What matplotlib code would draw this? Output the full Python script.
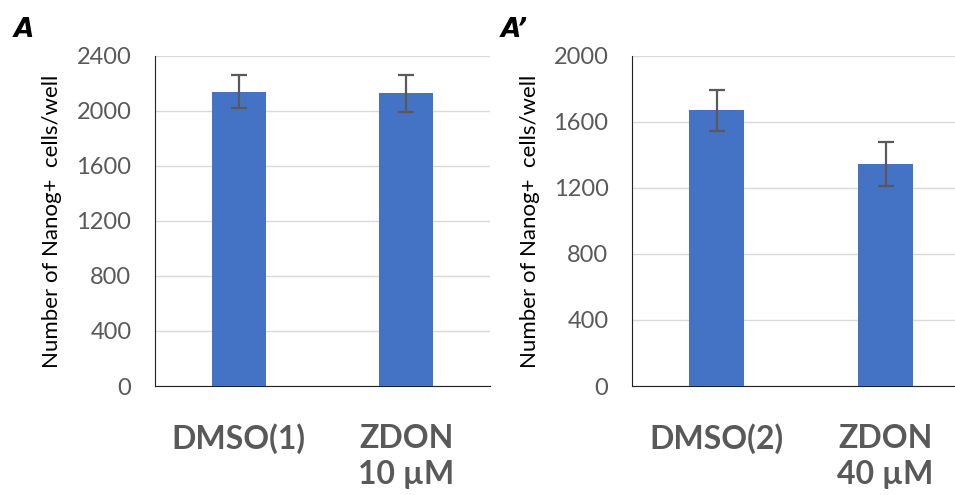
import matplotlib.pyplot as plt
import numpy as np

# panel A
cats_a = ["DMSO(1)", "ZDON\n10 µM"]
vals_a = [2140, 2130]
err_a = [120, 135]
# panel A'
cats_b = ["DMSO(2)", "ZDON\n40 µM"]
vals_b = [1670, 1345]
err_b = [125, 133]

bar_col = "#4472C4"
grey = "#595959"
plt.rcParams['font.family'] = ['Lato', 'DejaVu Sans']

fig = plt.figure(figsize=(9.55, 4.95), dpi=100)
ax1 = fig.add_axes([0.1623, 0.2202, 0.3508, 0.6667])
ax2 = fig.add_axes([0.6618, 0.2202, 0.3382, 0.6667])


def draw(ax, cats, vals, errs, ymax, xmax):
    x = np.arange(len(cats))
    ax.bar(x, vals, width=0.32, color=bar_col, zorder=3)
    ax.errorbar(x, vals, yerr=errs, fmt="none", ecolor=grey, elinewidth=1.6,
                capsize=5.5, capthick=1.6, zorder=4)
    ax.set_ylim(0, ymax)
    ax.set_xlim(-0.5, xmax)
    ax.set_yticks(np.arange(0, ymax + 1, 400))
    ax.set_xticks(x)
    ax.set_xticklabels(cats, fontsize=23, fontweight="bold", color=grey,
                       linespacing=1.3)
    ax.tick_params(axis="y", length=0, pad=17, labelsize=17, labelcolor=grey)
    ax.tick_params(axis="x", length=0, pad=27)
    ax.grid(axis="y", color="#d9d9d9", lw=1, zorder=0)
    for s in ["top", "right"]:
        ax.spines[s].set_visible(False)
    ax.spines["left"].set_color("#222222")
    ax.spines["bottom"].set_color("#222222")
    ax.set_ylabel("Number of Nanog+  cells/well", fontsize=16, color="black",
                  labelpad=10)


draw(ax1, cats_a, vals_a, err_a, 2400, 1.5)
draw(ax2, cats_b, vals_b, err_b, 2000, 1.411)

fig.text(0.014, 0.94, "A", fontsize=19, fontweight="bold", style="italic",
         family="DejaVu Sans", va="center")
fig.text(0.524, 0.94, "A’", fontsize=19, fontweight="bold", style="italic",
         family="DejaVu Sans", va="center")

fig.savefig("out.png", dpi=100)
